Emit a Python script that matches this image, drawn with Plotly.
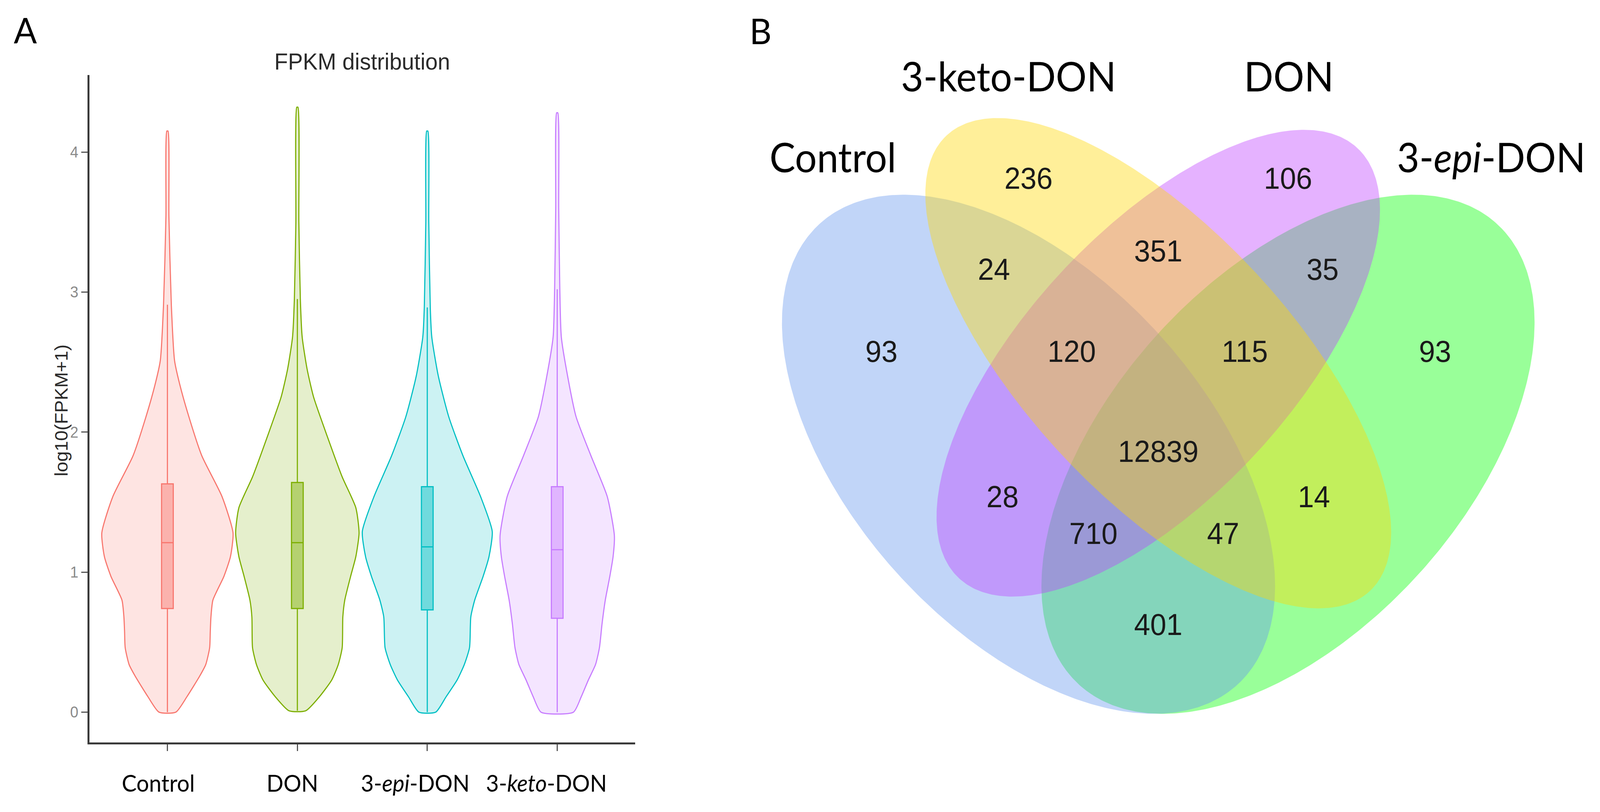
import numpy as np
import plotly.graph_objects as go

# ---------------- Panel A data ----------------
categories = ["Control", "DON", "3-epi-DON", "3-keto-DON"]
category_labels = ["Control", "DON", "3-<i>epi</i>-DON", "3-<i>keto</i>-DON"]
y_ticks = [0, 1, 2, 3, 4]

control_y = [0.00, 0.11, 0.26, 0.34, 0.46, 0.58, 0.68, 0.80, 0.97, 1.11, 1.28, 1.54, 1.83, 2.11, 2.34, 2.51, 2.91, 3.54, 4.15]
control_d = [0.13, 0.30, 0.50, 0.59, 0.65, 0.66, 0.67, 0.70, 0.87, 0.97, 1.01, 0.84, 0.53, 0.33, 0.19, 0.11, 0.06, 0.023, 0.009]

don_y = [0.01, 0.11, 0.23, 0.34, 0.46, 0.68, 0.80, 0.97, 1.11, 1.28, 1.46, 1.68, 1.97, 2.25, 2.45, 2.68, 2.95, 3.50, 4.32]
don_d = [0.13, 0.34, 0.53, 0.63, 0.69, 0.70, 0.73, 0.82, 0.90, 0.95, 0.90, 0.69, 0.46, 0.25, 0.15, 0.074, 0.046, 0.023, 0.009]

epi_y = [0.00, 0.11, 0.23, 0.34, 0.46, 0.68, 0.80, 0.97, 1.11, 1.29, 1.54, 1.83, 2.11, 2.40, 2.68, 2.89, 3.50, 4.15]
epi_d = [0.13, 0.29, 0.46, 0.57, 0.65, 0.67, 0.73, 0.86, 0.95, 1.00, 0.82, 0.55, 0.33, 0.17, 0.069, 0.046, 0.023, 0.009]

keto_y = [0.00, 0.11, 0.23, 0.34, 0.46, 0.63, 0.80, 0.97, 1.11, 1.26, 1.54, 1.83, 2.11, 2.40, 2.68, 3.02, 3.60, 4.28]
keto_d = [0.25, 0.37, 0.48, 0.59, 0.65, 0.69, 0.74, 0.81, 0.86, 0.88, 0.77, 0.52, 0.29, 0.16, 0.063, 0.040, 0.023, 0.009]

box_q1 = [0.74, 0.74, 0.73, 0.67]
box_median = [1.21, 1.21, 1.18, 1.16]
box_q3 = [1.63, 1.64, 1.61, 1.61]
box_low = [0.00, 0.01, 0.00, 0.00]
box_high = [2.91, 2.95, 2.89, 3.02]

# ---------------- Panel B data ----------------
venn_sets = ["Control", "3-keto-DON", "DON", "3-<i>epi</i>-DON"]
venn_counts = [236, 351, 106, 24, 120, 12839, 115, 35, 93, 28, 710, 401, 47, 14, 93]

# ---------------- styles / layout ----------------
hue = ["#F8766D", "#7CAE00", "#00BFC4", "#C77CFF"]


def rgba(hexc, a):
    h = hexc.lstrip("#")
    r, g, b = int(h[0:2], 16), int(h[2:4], 16), int(h[4:6], 16)
    return f"rgba({r},{g},{b},{a})"


W, H = 4310, 2078
VW = 0.5

fig = go.Figure()

profiles = [(control_y, control_d), (don_y, don_d), (epi_y, epi_d), (keto_y, keto_d)]
for i, (ys, ds) in enumerate(profiles):
    xs = [i + d * VW for d in ds] + [i - d * VW for d in ds[::-1]] + [i + ds[0] * VW]
    yy = list(ys) + list(ys[::-1]) + [ys[0]]
    fig.add_trace(go.Scatter(
        x=xs, y=yy, mode="lines", fill="toself",
        fillcolor=rgba(hue[i], 0.2),
        line=dict(color=hue[i], width=3, shape="spline", smoothing=0.6),
        hoverinfo="skip", xaxis="x", yaxis="y"))

for i in range(4):
    fig.add_trace(go.Box(
        x=[i], q1=[box_q1[i]], median=[box_median[i]], q3=[box_q3[i]],
        lowerfence=[box_low[i]], upperfence=[box_high[i]],
        width=0.09, whiskerwidth=0, boxpoints=False,
        fillcolor=rgba(hue[i], 0.45), line=dict(color=hue[i], width=3),
        hoverinfo="skip", xaxis="x", yaxis="y"))

ellipses = [
    dict(cx=0.65, cy=0.47, a=0.35, b=0.20, rot=45, color=(0, 255, 0)),
    dict(cx=0.35, cy=0.47, a=0.35, b=0.20, rot=135, color=(100, 149, 237)),
    dict(cx=0.50, cy=0.57, a=0.33, b=0.15, rot=45, color=(191, 62, 255)),
    dict(cx=0.50, cy=0.57, a=0.35, b=0.15, rot=135, color=(255, 215, 0)),
]
t = np.linspace(0, 2 * np.pi, 500)
for e in ellipses:
    th = np.deg2rad(e["rot"])
    ex = e["cx"] + e["a"] * np.cos(t) * np.cos(th) - e["b"] * np.sin(t) * np.sin(th)
    ey = e["cy"] + e["a"] * np.cos(t) * np.sin(th) + e["b"] * np.sin(t) * np.cos(th)
    r, g, b = e["color"]
    fig.add_trace(go.Scatter(
        x=ex, y=ey, mode="lines", fill="toself",
        fillcolor=f"rgba({r},{g},{b},0.4)", line=dict(width=0),
        hoverinfo="skip", xaxis="x2", yaxis="y2"))

venn_label_pos = [(0.350, 0.770), (0.500, 0.690), (0.650, 0.770), (0.310, 0.670),
                  (0.400, 0.580), (0.500, 0.470), (0.600, 0.580), (0.690, 0.670),
                  (0.180, 0.580), (0.320, 0.420), (0.425, 0.380), (0.500, 0.280),
                  (0.575, 0.380), (0.680, 0.420), (0.820, 0.580)]
fig.add_trace(go.Scatter(
    x=[p[0] for p in venn_label_pos], y=[p[1] for p in venn_label_pos],
    mode="text", text=[str(c) for c in venn_counts],
    textfont=dict(family="Liberation Sans", size=78, color="#1a1a1a"),
    hoverinfo="skip", xaxis="x2", yaxis="y2"))

set_label_pos = [(0.124, 0.797), (0.327, 0.886), (0.651, 0.886), (0.885, 0.797)]

annotations = []
for name, (px, py) in zip(venn_sets, set_label_pos):
    annotations.append(dict(text=name, x=px, y=py, xref="x2", yref="y2",
                            showarrow=False, xanchor="center", yanchor="middle",
                            font=dict(family="Lato", size=104, color="black")))

cat_shift = [-25, -14, -33, -29]
for i, lab in enumerate(category_labels):
    annotations.append(dict(text=lab, x=i, y=1 - 2003 / H, xref="x", yref="paper",
                            xshift=cat_shift[i], showarrow=False,
                            xanchor="center", yanchor="middle",
                            font=dict(family="Lato", size=60, color="black")))

annotations += [
    dict(text="A", x=68 / W, y=1 - 76 / H, xref="paper", yref="paper", showarrow=False,
         xanchor="center", yanchor="middle", font=dict(family="Lato", size=92, color="black")),
    dict(text="B", x=2048 / W, y=1 - 77 / H, xref="paper", yref="paper", showarrow=False,
         xanchor="center", yanchor="middle", font=dict(family="Lato", size=92, color="black")),
    dict(text="FPKM distribution", x=976 / W, y=1 - 157 / H, xref="paper", yref="paper",
         showarrow=False, xanchor="center", yanchor="middle",
         font=dict(family="Liberation Sans", size=60, color="#2a2a2a")),
    dict(text="log10(FPKM+1)", x=165 / W, y=1 - 1051 / H, xref="paper", yref="paper",
         showarrow=False, xanchor="center", yanchor="middle", textangle=-90,
         font=dict(family="Liberation Sans", size=48, color="#2a2a2a")),
]

fig.update_layout(
    width=W, height=H, margin=dict(l=0, r=0, t=0, b=0),
    paper_bgcolor="white", plot_bgcolor="white", showlegend=False,
    xaxis=dict(domain=[241 / W, 1711 / W], range=[-0.6, 3.6], anchor="y",
               showline=True, linewidth=5, linecolor="#3a3a3a",
               ticks="outside", ticklen=17, tickwidth=3, tickcolor="#555555",
               tickvals=[0, 1, 2, 3], showticklabels=False,
               showgrid=False, zeroline=False),
    yaxis=dict(domain=[1 - 1900 / H, 1 - 192 / H], range=[-0.2165, 4.55], anchor="x",
               showline=True, linewidth=5, linecolor="#3a3a3a",
               ticks="outside", ticklen=17, tickwidth=3, tickcolor="#555555",
               tickvals=y_ticks, ticktext=[str(v) for v in y_ticks],
               tickfont=dict(family="Liberation Sans", size=40, color="#8a8a8a"),
               showgrid=False, zeroline=False),
    xaxis2=dict(domain=[2000 / W, 4300 / W], range=[0.0193, 1.0064], anchor="y2",
                visible=False),
    yaxis2=dict(domain=[0, 1], range=[0.0771, 0.9689], anchor="x2", visible=False),
    annotations=annotations,
)

# fit the fixed 4310x2078 figure into whatever viewport the browser really has
post_script = """
document.documentElement.style.margin='0';
document.documentElement.style.overflow='hidden';
document.body.style.margin='0';
document.body.style.overflow='hidden';
var gd=document.getElementById('{plot_id}');
var sx=window.innerWidth/4310, sy=window.innerHeight/2078;
if (Math.abs(sx-1)>0.001 || Math.abs(sy-1)>0.001) {
  gd.style.transformOrigin='0 0';
  gd.style.transform='scale('+sx+','+sy+')';
}
"""

fig.write_html("out.html", post_script=post_script,
               config={"displayModeBar": False, "staticPlot": True})
